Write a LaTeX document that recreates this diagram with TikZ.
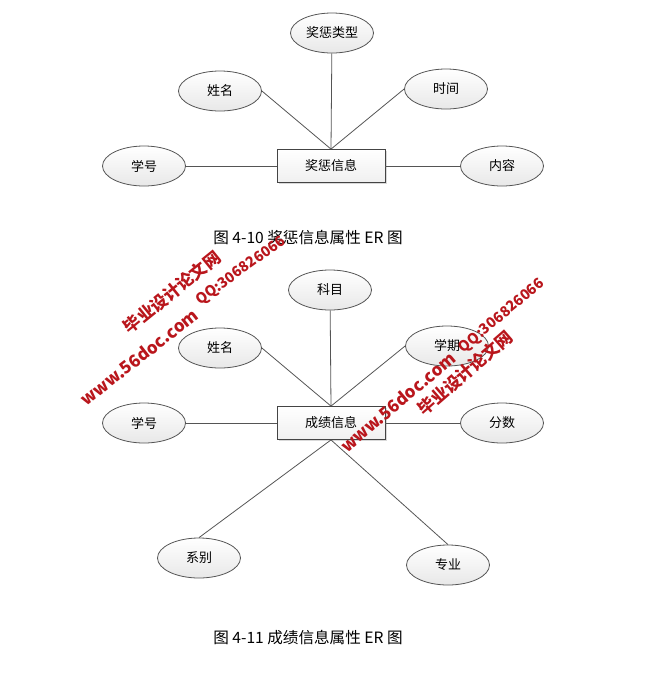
\documentclass[tikz,border=0pt]{standalone}
\usepackage{fontspec}
\newfontfamily\cjk{Noto Sans CJK SC}
\usepackage{tikz}
\usetikzlibrary{shapes.geometric,shadows}
\definecolor{wmred}{RGB}{185,22,28}
\definecolor{edgegray}{RGB}{85,85,85}

\begin{document}
\begin{tikzpicture}[x=0.5pt,y=-0.5pt,
  attr/.style={ellipse,draw=edgegray,top color=white,bottom color=gray!18,
    minimum width=41.5pt,minimum height=20pt,inner sep=0pt,
    font=\cjk\fontsize{6.5}{7}\selectfont},
  entity/.style={rectangle,draw=edgegray!80!black,top color=white,bottom color=gray!12,
    minimum width=54pt,minimum height=16.5pt,inner sep=0pt,
    drop shadow={opacity=0.3,shadow xshift=0.8pt,shadow yshift=-0.8pt},
    font=\cjk\fontsize{6.5}{7}\selectfont},
  link/.style={draw=edgegray,line width=0.4pt},
  caption/.style={font=\cjk\fontsize{7.8}{8.5}\selectfont},
  wm/.style={text=wmred,font=\cjk\bfseries\fontsize{8.5}{9}\selectfont,inner sep=0pt}]
  \useasboundingbox (0,0) rectangle (650,692);
  % first diagram
  \node [entity] (JC) at (331,166) {奖惩信息};
  \node [attr] (JCLX) at (332,33) {奖惩类型};
  \node [attr] (XM1) at (220,91) {姓名};
  \node [attr] (SJ) at (446,89) {时间};
  \node [attr] (XH1) at (144,166) {学号};
  \node [attr] (NR) at (502,166) {内容};
  \draw [link] (JCLX) -- (JC.north);
  \draw [link] (XM1.east) -- (JC.north);
  \draw [link] (SJ.west) -- (JC.north);
  \draw [link] (XH1) -- (JC);
  \draw [link] (JC) -- (NR);
  \node [caption] (C1) at (308,238) {图 4-10 奖惩信息属性 ER 图};
  % second diagram
  \node [entity] (CJ) at (331,423) {成绩信息};
  \node [attr] (KM) at (330,290) {科目};
  \node [attr] (XM2) at (220,348) {姓名};
  \node [attr] (XQ) at (447,346) {学期};
  \node [attr] (XH2) at (144,423) {学号};
  \node [attr] (FS) at (502,423) {分数};
  \node [attr] (XB) at (199,558) {系别};
  \node [attr] (ZY) at (448,565) {专业};
  \draw [link] (KM) -- (CJ.north);
  \draw [link] (XM2.east) -- (CJ.north);
  \draw [link] (XQ.west) -- (CJ.north);
  \draw [link] (XH2) -- (CJ);
  \draw [link] (CJ) -- (FS);
  \draw [link] (CJ.south) -- (XB.north);
  \draw [link] (CJ.south) -- (ZY.north);
  \node [caption] (C2) at (308,638) {图 4-11 成绩信息属性 ER 图};
  % watermarks
  \node [wm,rotate=39] (W1) at (172,292) {毕业设计论文网};
  \node [wm,rotate=38] (W2) at (139,357) {www.56doc.com};
  \node [wm,rotate=36,font=\cjk\bfseries\fontsize{7.2}{8}\selectfont] (W3) at (241,271) {QQ:306826066};
  \node [wm,rotate=40] (W4) at (398,402) {www.56doc.com};
  \node [wm,rotate=41] (W5) at (465,373) {毕业设计论文网};
  \node [wm,rotate=40,font=\cjk\bfseries\fontsize{7.2}{8}\selectfont] (W6) at (502,316) {QQ:306826066};
\end{tikzpicture}
\end{document}
